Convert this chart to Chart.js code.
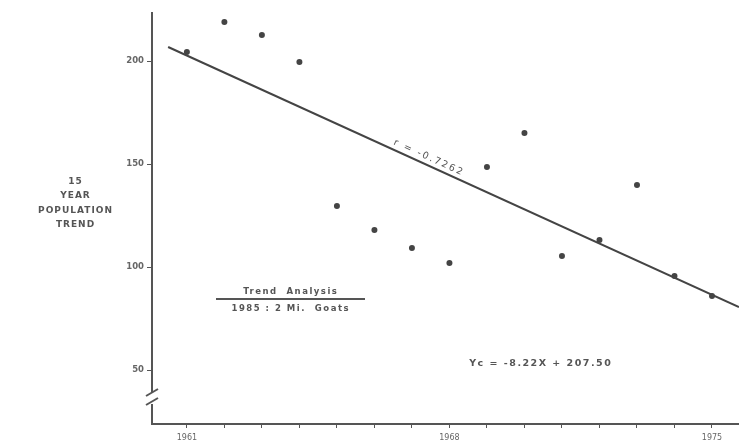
<!DOCTYPE html>
<html><head><meta charset="utf-8">
<script src="https://cdn.jsdelivr.net/npm/chart.js@4"></script>
<style>html,body{margin:0;padding:0;background:#fff}#wrap{width:739px;height:448px;position:relative}</style>
</head><body><div id="wrap"><canvas id="c" width="739" height="448"></canvas></div>
<script>
const years = [1961,1962,1963,1964,1965,1966,1967,1968,1969,1970,1971,1972,1973,1974,1975];
const population = [204.4,218.9,212.6,199.5,129.6,118.0,109.2,102.0,148.5,165.0,105.3,113.1,139.8,95.6,85.9];
const trendYears = [1960.5,1975.72];
const trendValues = [206.8,80.6];
const yTickValues = [50,100,150,200];
const xLabelYears = [1961,1968,1975];
const axisTitleLines = ['15','YEAR','POPULATION','TREND'];
const boxTitle = 'Trend  Analysis';
const boxSubtitle = '1985 : 2 Mi.  Goats';
const rLabel = 'r = -0.7262';
const eqLabel = 'Yc = -8.22X + 207.50';

const ink = '#555';
const textFont = '"DejaVu Sans",sans-serif';

function spaced(ctx, text, x, y, sp){
  ctx.letterSpacing = sp+'px';
  ctx.fillText(text, x + sp/2, y);
  ctx.letterSpacing = '0px';
}

const deco = {
  id:'deco',
  afterDraw(chart){
    const ctx = chart.ctx, xs = chart.scales.x, ys = chart.scales.y;
    ctx.save();
    ctx.fillStyle = ink; ctx.strokeStyle = ink;
    ctx.textAlign='center'; ctx.textBaseline='middle';
    ctx.font = 'bold 9px '+textFont;
    const ty=[182,196,211,225];
    axisTitleLines.forEach((t,i)=>spaced(ctx,t,75,ty[i],1));
    // axis break marks
    ctx.lineWidth=2;
    ctx.fillStyle='#fff';
    ctx.fillRect(148,392,9,12);
    ctx.strokeStyle=ink;
    ctx.beginPath();ctx.moveTo(146,396);ctx.lineTo(158,389);ctx.stroke();
    ctx.beginPath();ctx.moveTo(146,405);ctx.lineTo(158,398);ctx.stroke();
    // box label
    ctx.fillStyle=ink;
    ctx.font='bold 8.5px '+textFont;
    spaced(ctx,boxTitle,290,292,1.5);
    ctx.lineWidth=2;
    ctx.beginPath();ctx.moveTo(216,299);ctx.lineTo(365,299);ctx.stroke();
    spaced(ctx,boxSubtitle,290,309,1.5);
    // equation
    ctx.font='bold 9.5px '+textFont;
    spaced(ctx,eqLabel,540,364,1.5);
    // r label along line
    const x1=xs.getPixelForValue(trendYears[0]),y1=ys.getPixelForValue(trendValues[0]);
    const x2=xs.getPixelForValue(trendYears[1]),y2=ys.getPixelForValue(trendValues[1]);
    const ang=Math.atan2(y2-y1,x2-x1);
    const cx=428, cy=y1+(cx-x1)*(y2-y1)/(x2-x1)-8;
    ctx.translate(cx,cy);ctx.rotate(ang);
    ctx.font='9.5px '+textFont;
    spaced(ctx,rLabel,0,0,2);
    ctx.restore();
  }
};

new Chart(document.getElementById('c'),{
  type:'scatter',
  data:{datasets:[
    {data:years.map((y,i)=>({x:y,y:population[i]})),pointRadius:3,pointHoverRadius:3,backgroundColor:'#444',borderColor:'#444',pointBorderWidth:0,showLine:false},
    {data:trendYears.map((y,i)=>({x:y,y:trendValues[i]})),showLine:true,pointRadius:0,borderColor:'#444',borderWidth:2,fill:false}
  ]},
  options:{
    responsive:false,animation:false,
    layout:{autoPadding:false,padding:{top:13,right:0,left:0,bottom:0}},
    plugins:{legend:{display:false},tooltip:{enabled:false}},
    scales:{
      x:{type:'linear',min:1960.07,max:1975.72,
        afterBuildTicks(s){s.ticks=years.map(v=>({value:v}));},
        afterFit(s){s.height=24;s.paddingRight=0;s.paddingLeft=0;},
        ticks:{autoSkip:false,maxRotation:0,color:'#666',font:{size:8,family:textFont},padding:5,
          callback:v=>xLabelYears.includes(v)?String(v):''},
        grid:{drawOnChartArea:false,drawTicks:true,tickLength:4,color:ink},
        border:{color:ink,width:2}},
      y:{type:'linear',min:23.8,max:223.3,
        afterBuildTicks(s){s.ticks=yTickValues.map(v=>({value:v}));},
        afterFit(s){s.width=152;s.paddingTop=0;s.paddingBottom=0;},
        ticks:{color:'#666',font:{size:8.5,weight:'bold',family:textFont},padding:3},
        grid:{drawOnChartArea:false,drawTicks:true,tickLength:5,color:ink},
        border:{color:ink,width:2}}
    }
  },
  plugins:[deco]
});
</script></body></html>
